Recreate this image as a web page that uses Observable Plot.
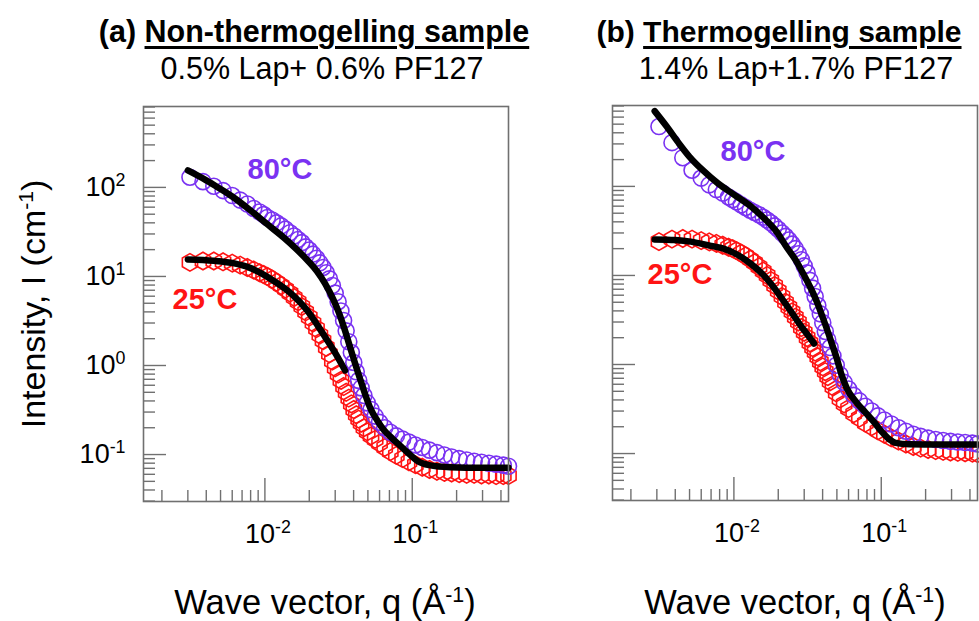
<!DOCTYPE html>
<html><head><meta charset="utf-8">
<script src="https://cdn.jsdelivr.net/npm/d3@7"></script>
<script src="https://cdn.jsdelivr.net/npm/@observablehq/plot@0.6"></script>
<style>
html,body{margin:0;padding:0;background:#fff;}
#root{position:relative;width:979px;height:621px;overflow:hidden;font-family:'Liberation Sans',Arial,Helvetica,sans-serif;color:#000;}
.t{position:absolute;white-space:nowrap;line-height:1;}
.sup{font-size:0.62em;vertical-align:0.55em;line-height:0;}
svg{position:absolute;overflow:visible;}
</style></head><body><div id="root"></div>
<script>
// ---------------- data ----------------
const q = [0.0031, 0.0038, 0.0045, 0.0052, 0.0060, 0.0068, 0.0076, 0.0084, 0.0092, 0.0098, 0.0104, 0.0112, 0.0120, 0.0129, 0.0138, 0.0148, 0.0158, 0.0168, 0.0178, 0.0189, 0.0200, 0.0212, 0.0224, 0.0236, 0.0248, 0.0261, 0.0274, 0.0287, 0.0300, 0.0314, 0.0328, 0.0342, 0.0356, 0.0371, 0.0386, 0.0401, 0.0417, 0.0433, 0.0450, 0.0470, 0.0495, 0.0525, 0.0560, 0.0600, 0.0650, 0.0710, 0.0780, 0.0860, 0.0950, 0.1050, 0.1170, 0.1310, 0.1470, 0.1650, 0.1850, 0.2080, 0.2340, 0.2630, 0.2950, 0.3310, 0.3710, 0.4150, 0.4500];

// (a) non-thermogelling, 80 °C
const aHot = [130, 116, 103, 92, 81, 72, 65, 58, 53, 49.5, 46, 43, 40, 37, 34, 31, 28.5, 26, 24, 21.5, 19.8, 17.8, 16, 14.2, 12.6, 11, 9.4, 7.9, 6.5, 5.2, 4.1, 3.2, 2.45, 1.85, 1.4, 1.08, 0.85, 0.68, 0.56, 0.46, 0.38, 0.32, 0.27, 0.23, 0.2, 0.178, 0.162, 0.149, 0.138, 0.128, 0.12, 0.112, 0.105, 0.099, 0.094, 0.09, 0.087, 0.084, 0.082, 0.08, 0.078, 0.076, 0.074];
// (a) non-thermogelling, 25 °C
const aCold = [14.4, 14.9, 14.9, 14.6, 14.1, 13.4, 12.6, 11.8, 11, 10.5, 10, 9.3, 8.6, 7.9, 7.2, 6.5, 5.8, 5.2, 4.6, 4.0, 3.5, 3.0, 2.6, 2.2, 1.9, 1.6, 1.35, 1.12, 0.94, 0.8, 0.68, 0.58, 0.5, 0.43, 0.37, 0.32, 0.28, 0.25, 0.225, 0.2, 0.18, 0.162, 0.148, 0.134, 0.12, 0.108, 0.098, 0.09, 0.083, 0.077, 0.072, 0.068, 0.065, 0.063, 0.062, 0.061, 0.06, 0.06, 0.059, 0.059, 0.058, 0.058, 0.058];
// (b) thermogelling, 80 °C
const bHot = [470, 310, 210, 152, 124, 104, 92, 84, 76, 71, 67, 62, 58, 54, 51, 48, 45, 42, 39, 36, 33, 30, 27.5, 25, 22.5, 20, 17.5, 15, 12.8, 10.7, 8.8, 7.2, 5.8, 4.6, 3.7, 2.95, 2.35, 1.9, 1.55, 1.25, 0.98, 0.77, 0.63, 0.53, 0.45, 0.39, 0.34, 0.3, 0.265, 0.238, 0.215, 0.195, 0.178, 0.165, 0.156, 0.149, 0.144, 0.14, 0.137, 0.135, 0.133, 0.131, 0.128];
// (b) thermogelling, 25 °C
const bCold = [24, 25.6, 26, 25.6, 24.6, 23.8, 22.9, 21.8, 20.7, 20, 19, 17.8, 16.6, 15.2, 13.9, 12.5, 11.2, 10, 8.8, 7.7, 6.7, 5.8, 5.0, 4.4, 3.9, 3.4, 3.0, 2.6, 2.3, 2.0, 1.75, 1.55, 1.38, 1.22, 1.07, 0.94, 0.83, 0.73, 0.64, 0.56, 0.48, 0.41, 0.36, 0.32, 0.28, 0.25, 0.22, 0.2, 0.18, 0.165, 0.15, 0.138, 0.128, 0.12, 0.115, 0.111, 0.108, 0.106, 0.104, 0.103, 0.102, 0.101, 0.1];

// model fits (black curves)
const aHotFitQ = [0.0030, 0.0040, 0.0048, 0.0060, 0.0080, 0.0105, 0.0134, 0.0165, 0.0195, 0.0225, 0.0255, 0.0290, 0.0320, 0.0350, 0.0381, 0.0415, 0.0446, 0.0480, 0.0520, 0.0580, 0.0640, 0.0730, 0.0830, 0.0950, 0.1080, 0.1300, 0.1800, 0.3000, 0.4500];
const aHotFitI = [155, 120, 100, 79, 55, 38, 27.4, 20, 15.1, 11.5, 8.4, 5.6, 3.8, 2.45, 1.55, 0.98, 0.68, 0.47, 0.33, 0.24, 0.19, 0.152, 0.125, 0.102, 0.085, 0.076, 0.072, 0.071, 0.071];
const aColdFitQ = [0.0030, 0.0045, 0.0062, 0.0080, 0.0094, 0.0115, 0.0143, 0.0170, 0.0195, 0.0230, 0.0266, 0.0311, 0.0350];
const aColdFitI = [15.5, 15.0, 14.0, 12.4, 10.9, 8.9, 6.9, 5.3, 4.1, 2.75, 1.9, 1.25, 0.88];
const bHotFitQ = [0.0029, 0.0035, 0.0042, 0.0050, 0.0062, 0.0078, 0.0100, 0.0130, 0.0160, 0.0195, 0.0227, 0.0265, 0.0297, 0.0335, 0.0365, 0.0400, 0.0426, 0.0460, 0.0499, 0.0540, 0.0584, 0.0684, 0.0780, 0.0894, 0.1010, 0.1130, 0.1250, 0.1550, 0.2500, 0.4500];
const bHotFitI = [700, 470, 310, 215, 150, 108, 81, 60, 44, 31, 21, 14.5, 10.3, 7.0, 5.1, 3.4, 2.55, 1.75, 1.17, 0.75, 0.54, 0.37, 0.29, 0.225, 0.175, 0.145, 0.132, 0.127, 0.126, 0.126];
const bColdFitQ = [0.0029, 0.0040, 0.0051, 0.0070, 0.0085, 0.0105, 0.0131, 0.0155, 0.0179, 0.0210, 0.0245, 0.0290, 0.0320, 0.0350];
const bColdFitI = [25.4, 25.0, 24.0, 21.5, 20.0, 17.2, 13.4, 10.5, 8.0, 5.6, 3.9, 2.6, 2.1, 1.72];

// axes
const xDomain = [0.0015, 0.45];
const yDomain = [0.0297, 810];
const xMajor = [0.01, 0.1];
const xMajorText = ["10^-2", "10^-1"];
const xMinor = [0.002, 0.003, 0.004, 0.005, 0.006, 0.007, 0.008, 0.009, 0.02, 0.03, 0.04, 0.05, 0.06, 0.07, 0.08, 0.09, 0.2, 0.3, 0.4];
const yMajor = [0.1, 1, 10, 100];
const yMajorText = ["10^-1", "10^0", "10^1", "10^2"];
const yMinor = [0.03, 0.04, 0.05, 0.06, 0.07, 0.08, 0.09, 0.2, 0.3, 0.4, 0.5, 0.6, 0.7, 0.8, 0.9, 2, 3, 4, 5, 6, 7, 8, 9, 20, 30, 40, 50, 60, 70, 80, 90, 200, 300, 400, 500, 600, 700, 800];

// ---------------- drawing ----------------
const PURPLE = "#7A32F2", RED = "#FF1414", GRAY = "#707070";
const FONT = "'Liberation Sans', Arial, Helvetica, sans-serif";
const root = document.getElementById("root");
const W = 365, H = 395, MT = 10, MB = 70;

function rows(xs, ys) { return xs.map((x, i) => ({q: x, I: ys[i]})); }

function panel(hot, cold, hotFit, coldFit, withY, left, top, ml) {
  const mr = 2;
  const marks = [
    Plot.dot(rows(q, cold), {x: "q", y: "I", symbol: "hexagon", r: 7.6, stroke: RED, strokeWidth: 1.6, fill: "none"}),
    Plot.dot(rows(q, hot), {x: "q", y: "I", symbol: "circle", r: 8, stroke: PURPLE, strokeWidth: 1.6, fill: "none"}),
    Plot.line(coldFit, {x: "q", y: "I", stroke: "#000", strokeWidth: 6.5, curve: "monotone-x", strokeLinecap: "round"}),
    Plot.line(hotFit, {x: "q", y: "I", stroke: "#000", strokeWidth: 6.5, curve: "monotone-x", strokeLinecap: "round"}),
    Plot.tickY(yMajor, {y: d => d, insetRight: W - 23, stroke: GRAY, strokeWidth: 1.4}),
    Plot.tickY(yMinor, {y: d => d, insetRight: W - 12, stroke: GRAY, strokeWidth: 1.4}),
    Plot.tickX(xMajor, {x: d => d, insetTop: H - 23, stroke: GRAY, strokeWidth: 1.4}),
    Plot.tickX(xMinor, {x: d => d, insetTop: H - 11, stroke: GRAY, strokeWidth: 1.4}),
    Plot.frame({stroke: GRAY, strokeWidth: 1.6}),
    Plot.axisX(xMajor, {tickSize: 0, tickPadding: 22, label: null, fontSize: 27, fontFamily: FONT, dx: 3,
      tickFormat: d => xMajorText[xMajor.indexOf(d)]})
  ];
  if (withY) marks.push(Plot.axisY(yMajor, {tickSize: 0, tickPadding: 18, label: null, fontSize: 27, fontFamily: FONT,
      tickFormat: d => yMajorText[yMajor.indexOf(d)]}));
  const svg = Plot.plot({
    width: ml + W + mr, height: MT + H + MB,
    marginLeft: ml, marginRight: mr, marginTop: MT, marginBottom: MB,
    x: {type: "log", domain: xDomain},
    y: {type: "log", domain: yDomain, axis: withY ? undefined : null},
    style: {fontFamily: FONT, fontSize: "27px", background: "transparent", color: "#000", overflow: "visible"},
    marks
  });
  // superscript exponents in tick labels
  svg.querySelectorAll('g[aria-label$="tick label"] text').forEach(t => {
    const s = t.textContent;
    if (s.includes("^")) {
      const [b, e] = s.split("^");
      t.textContent = b;
      const ts = document.createElementNS("http://www.w3.org/2000/svg", "tspan");
      ts.setAttribute("dy", "-0.55em");
      ts.setAttribute("font-size", "0.66em");
      ts.textContent = e;
      t.appendChild(ts);
    }
  });
  svg.style.left = left + "px";
  svg.style.top = top + "px";
  root.appendChild(svg);
}

panel(aHot, aCold, rows(aHotFitQ, aHotFitI), rows(aColdFitQ, aColdFitI), true, 0, 106 - MT, 143);
panel(bHot, bCold, rows(bHotFitQ, bHotFitI), rows(bColdFitQ, bColdFitI), false, 592, 105 - MT, 20);

function text(html, cx, baseline, size, extra) {
  const d = document.createElement("div");
  d.className = "t";
  d.innerHTML = html;
  d.style.fontSize = size + "px";
  d.style.left = cx + "px";
  d.style.top = (baseline - 0.8465 * size) + "px";
  d.style.transform = "translateX(-50%)";
  Object.assign(d.style, extra || {});
  root.appendChild(d);
  return d;
}
const U = 'style="text-decoration:underline;text-decoration-thickness:2.5px;text-underline-offset:4px"';
text(`(a) <span ${U}>Non-thermogelling sample</span>`, 314, 42, 30.5, {fontWeight: "bold"});
text(`0.5% Lap+ 0.6% PF127`, 322, 79, 30.5);
text(`(b) <span ${U}>Thermogelling sample</span>`, 779, 42, 30, {fontWeight: "bold"});
text(`1.4% Lap+1.7% PF127`, 796, 79, 30.5);

text(`80°C`, 280, 180, 29, {fontWeight: "bold", color: PURPLE});
text(`25°C`, 205, 310, 29, {fontWeight: "bold", color: RED});
text(`80°C`, 753, 162, 29, {fontWeight: "bold", color: PURPLE});
text(`25°C`, 680, 285, 29, {fontWeight: "bold", color: RED});

text(`Wave vector, q (Å<span class="sup">-1</span>)`, 325, 614, 34.5);
text(`Wave vector, q (Å<span class="sup">-1</span>)`, 795, 614, 34.5);

const yl = document.createElement("div");
yl.className = "t";
yl.innerHTML = `Intensity, I (cm<span class="sup">-1</span>)`;
yl.style.fontSize = "34px";
yl.style.left = "33px";
yl.style.top = "304px";
yl.style.transform = "translate(-50%,-50%) rotate(-90deg)";
root.appendChild(yl);
</script></body></html>
